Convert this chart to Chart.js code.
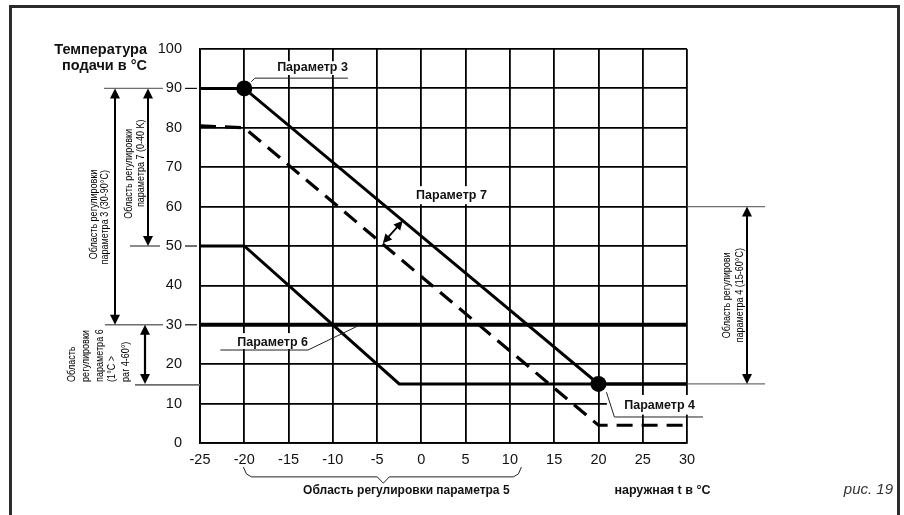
<!DOCTYPE html>
<html><head><meta charset="utf-8">
<script src="https://cdn.jsdelivr.net/npm/chart.js@4/dist/chart.umd.min.js"></script>
<style>html,body{margin:0;padding:0;background:#fff}#wrap{width:904px;height:515px}</style>
</head><body><div id="wrap"><canvas id="c" width="904" height="515"></canvas></div>
<script>
// ---- data ----
const xTicks = [-25, -20, -15, -10, -5, 0, 5, 10, 15, 20, 25, 30];
const yTicks = [0, 10, 20, 30, 40, 50, 60, 70, 80, 90, 100];
const param3X = [-25, -20, 20, 30];       // solid curve through Параметр 3 / Параметр 4
const param3Y = [90, 90, 15, 15];
const param7X = [-25, -20, 20, 30];       // dashed curve, offset by Параметр 7
const param7Y = [80.5, 80, 4.5, 4.5];
const lowerX = [-25, -20, -2.5, 30];      // lower solid curve
const lowerY = [50, 50, 15, 15];
const param6X = [-25, 30];                // Параметр 6 limit
const param6Y = [30, 30];
const markerX = [-20, 20];                // Параметр 3 / Параметр 4 points
const markerY = [90, 15];

const pts = (xs, ys) => xs.map((v, i) => ({x: v, y: ys[i]}));
const FONT = '"Liberation Sans", Arial, sans-serif';

function txt(ctx, s, x, y, font, align, color) {
  ctx.font = font; ctx.textAlign = align || 'left'; ctx.textBaseline = 'middle';
  ctx.fillStyle = color || '#111'; ctx.fillText(s, x, y);
}
function rtxt(ctx, s, x, y, font, align, sx) {
  ctx.save(); ctx.translate(x, y); ctx.rotate(-Math.PI / 2); ctx.scale(sx || 1, 1);
  ctx.font = font; ctx.textAlign = align || 'center'; ctx.textBaseline = 'middle';
  ctx.fillStyle = '#000'; ctx.fillText(s, 0, 0); ctx.restore();
}
function seg(ctx, pts, color, lw) {
  ctx.beginPath(); ctx.moveTo(pts[0][0], pts[0][1]);
  for (let i = 1; i < pts.length; i++) ctx.lineTo(pts[i][0], pts[i][1]);
  ctx.strokeStyle = color; ctx.lineWidth = lw; ctx.stroke();
}
function head(ctx, x, y, ang, len, w) {
  const c = Math.cos(ang), s = Math.sin(ang);
  ctx.beginPath(); ctx.moveTo(x, y);
  ctx.lineTo(x - len * c + w / 2 * s, y - len * s - w / 2 * c);
  ctx.lineTo(x - len * c - w / 2 * s, y - len * s + w / 2 * c);
  ctx.closePath(); ctx.fillStyle = '#000'; ctx.fill();
}
function dArrow(ctx, x1, y1, x2, y2, len, w, lw) {
  const a1 = Math.atan2(y1 - y2, x1 - x2), a2 = Math.atan2(y2 - y1, x2 - x1);
  seg(ctx, [[x1 - Math.cos(a1) * len * 0.6, y1 - Math.sin(a1) * len * 0.6],
            [x2 - Math.cos(a2) * len * 0.6, y2 - Math.sin(a2) * len * 0.6]], '#000', lw);
  head(ctx, x1, y1, a1, len, w); head(ctx, x2, y2, a2, len, w);
}

const annotate = {
  id: 'annotate',
  afterDraw(chart) {
    const {ctx, chartArea: a, scales} = chart;
    const X = v => scales.x.getPixelForValue(v), Y = v => scales.y.getPixelForValue(v);
    const L = a.left, R = a.right;
    ctx.save();
    // outer frame
    ctx.strokeStyle = '#2b2b2b'; ctx.lineWidth = 3;
    ctx.strokeRect(10.5, 6.5, 888, 530);

    // y axis title
    txt(ctx, 'Температура', L - 53, Y(100) + 1, 'bold 14.5px ' + FONT, 'right');
    txt(ctx, 'подачи в °C', L - 53, Y(100) + 17, 'bold 14.5px ' + FONT, 'right');

    // left range lines
    const g = '#6e6e6e';
    seg(ctx, [[L - 96, Y(90)], [L - 37, Y(90)]], g, 1.4);
    seg(ctx, [[L - 95, Y(30)], [L - 37, Y(30)]], g, 1.6);
    seg(ctx, [[L - 70, Y(50)], [L - 40, Y(50)]], g, 1.6);
    seg(ctx, [[L - 65, Y(15) + 1], [L, Y(15) + 1]], g, 1.6);
    // small tick dashes
    [90, 50, 30].forEach(v => seg(ctx, [[L - 15, Y(v)], [L - 3, Y(v)]], '#111', 1.2));

    // left arrows
    dArrow(ctx, L - 85, Y(90), L - 85, Y(30), 10, 10, 2);
    dArrow(ctx, L - 52, Y(90), L - 52, Y(50), 10, 10, 2);
    dArrow(ctx, L - 55, Y(30), L - 55, Y(15), 10, 10, 2.2);

    // left rotated texts
    const sf = '10.5px ' + FONT;
    rtxt(ctx, 'Область регулировки', L - 106, Y(58), sf, 'center', 0.86);
    rtxt(ctx, 'параметра 3 (30-90°C)', L - 95, Y(57.3), sf, 'center', 0.86);
    rtxt(ctx, 'Область регулировки', L - 71, Y(68.3), sf, 'center', 0.86);
    rtxt(ctx, 'параметра 7 (0-40 K)', L - 59, Y(71), sf, 'center', 0.86);
    const p6 = ['Область', 'регулировки', 'параметра 6', '(1°C >', 'par 4-60°)'];
    const p6x = [128, 114, 100, 88, 74];
    p6.forEach((s, i) => rtxt(ctx, s, L - p6x[i], Y(15) - 2, sf, 'left', 0.86));

    // right range
    seg(ctx, [[R + 1, Y(60)], [R + 78, Y(60)]], g, 1.3);
    seg(ctx, [[R + 1, Y(15)], [R + 78, Y(15)]], g, 1.3);
    dArrow(ctx, R + 60, Y(60), R + 60, Y(15), 10, 10, 2);
    const mid = (Y(60) + Y(15)) / 2;
    rtxt(ctx, 'Область регулирови', R + 40, mid, sf, 'center', 0.86);
    rtxt(ctx, 'параметра 4 (15-60°C)', R + 53, mid, sf, 'center', 0.86);

    // labels inside plot
    const lf = 'bold 12.5px ' + FONT;
    function box(x1, y1, x2, y2) { ctx.fillStyle = '#fff'; ctx.fillRect(x1, y1, x2 - x1, y2 - y1); }
    // Параметр 3
    box(X(-16.4), Y(96.9), X(-8.3), Y(93.4));
    seg(ctx, [[X(-19.2), Y(91.7)], [X(-18.8), Y(92.6)], [X(-8.3), Y(92.6)]], '#222', 1);
    txt(ctx, 'Параметр 3', X(-8.3), Y(95.2), lf, 'right');
    // Параметр 7
    box(X(2.2) - 37, Y(62.9) - 9, X(2.2) + 40, Y(62.9) + 9);
    txt(ctx, 'Параметр 7', X(3.4), Y(62.9), lf, 'center');
    dArrow(ctx, X(-4.35), Y(50.7), X(-2.1), Y(56.4), 9, 9, 1.8);
    // Параметр 6
    box(X(-13.0) - 74, Y(25.6) - 9, X(-12.8), Y(23.6) - 1);
    seg(ctx, [[X(-22.7), Y(23.6)], [X(-12.8), Y(23.6)], [X(-6.9), Y(30)]], '#222', 1);
    txt(ctx, 'Параметр 6', X(-12.8), Y(25.6), lf, 'right');
    // Параметр 4
    box(X(20.95), Y(12.2), X(31.8), Y(7.2));
    seg(ctx, [[X(20.9), Y(12.9)], [X(21.8), Y(6.6)], [X(31.8), Y(6.6)]], '#222', 1);
    txt(ctx, 'Параметр 4', X(30.9), Y(9.4), lf, 'right');

    // bracket for Параметр 5
    const b1 = X(-20.1), b2 = X(11.3), bm = X(-4.3), by0 = Y(-6.1), by1 = Y(-8.6), by2 = Y(-10.2);
    seg(ctx, [[b1, by0], [b1 + 3, by1 - 3], [b1 + 8, by1], [bm - 6, by1], [bm, by2],
              [bm + 6, by1], [b2 - 8, by1], [b2 - 3, by1 - 3], [b2, by0]], '#222', 1);
    txt(ctx, 'Область регулировки параметра 5', X(-1.7), Y(-12), 'bold 12px ' + FONT, 'center');
    txt(ctx, 'наружная t в °C', X(21.8), Y(-12), 'bold 12.5px ' + FONT, 'left');
    txt(ctx, 'рис. 19', R + 206, Y(-12), 'italic 15px ' + FONT, 'right', '#333');
    ctx.restore();
  }
};

new Chart(document.getElementById('c'), {
  type: 'scatter',
  data: {
    datasets: [
      {data: pts(param6X, param6Y), showLine: true, borderColor: '#000', borderWidth: 4, pointRadius: 0},
      {data: pts(param3X, param3Y), showLine: true, borderColor: '#000', borderWidth: 3, pointRadius: 0},
      {data: pts(lowerX, lowerY), showLine: true, borderColor: '#000', borderWidth: 3, pointRadius: 0},
      {data: pts(param7X, param7Y), showLine: true, borderColor: '#000', borderWidth: 3.2, borderDash: [16, 9], pointRadius: 0},
      {data: pts(markerX, markerY), showLine: false, pointRadius: 8, backgroundColor: '#000', borderColor: '#000', borderWidth: 0}
    ]
  },
  options: {
    responsive: false, devicePixelRatio: 1, animation: false,
    layout: {padding: {left: 0, right: 217, top: 49, bottom: 0}},
    plugins: {legend: {display: false}, tooltip: {enabled: false}},
    elements: {line: {tension: 0}},
    scales: {
      x: {
        type: 'linear', min: -25, max: 30,
        afterBuildTicks: s => { s.ticks = xTicks.map(v => ({value: v})); },
        afterFit: s => { s.height = 72; },
        grid: {color: '#000', lineWidth: 1.8, drawTicks: false},
        border: {display: true, color: '#000', width: 1.8},
        ticks: {padding: 8, maxRotation: 0, autoSkip: false, color: '#111', font: {family: FONT, size: 14.5}}
      },
      y: {
        type: 'linear', min: 0, max: 100,
        afterBuildTicks: s => { s.ticks = yTicks.map(v => ({value: v})); },
        afterFit: s => { s.width = 200; },
        grid: {color: '#000', lineWidth: 1.8, drawTicks: false},
        border: {display: true, color: '#000', width: 1.8},
        ticks: {padding: 18, color: '#111', font: {family: FONT, size: 14.5}}
      }
    }
  },
  plugins: [annotate]
});
</script>
</body></html>
